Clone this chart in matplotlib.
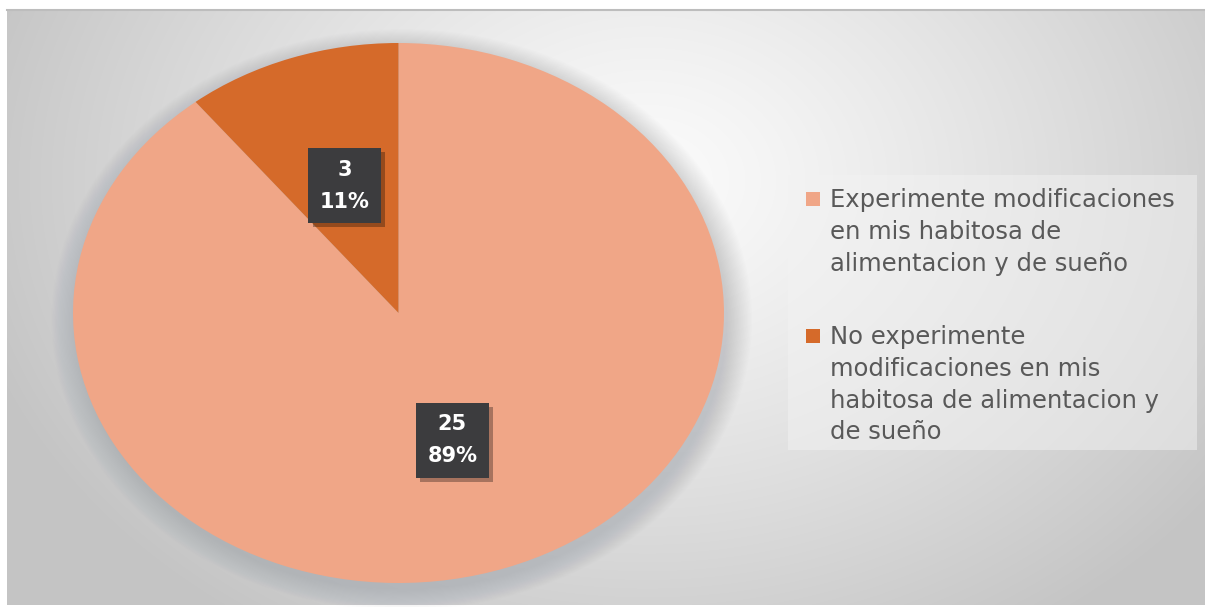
import numpy as np
import matplotlib
matplotlib.use("Agg")
import matplotlib.pyplot as plt
from matplotlib.patches import Ellipse, Rectangle
import matplotlib.patheffects as pe

# -----------------------------------
# Data
# -----------------------------------
categories = [
    "Experimente modificaciones\nen mis habitosa de\nalimentacion y de sueño",
    "No experimente\nmodificaciones en mis\nhabitosa de alimentacion y\nde sueño",
]
counts = [25, 3]
colors = ["#F0A687", "#D56A2A"]
total = sum(counts)

W, H = 1205, 607
fig = plt.figure(figsize=(W / 100, H / 100), dpi=100)
fig.patch.set_facecolor("white")

# -----------------------------------
# Background (radial grey gradient)
# -----------------------------------
ax_bg = fig.add_axes([7 / W, 2 / H, 1198 / W, 595 / H])
ax_bg.set_axis_off()
yy, xx = np.mgrid[0:595, 0:1198]
d = np.sqrt(((xx - 640) / 700.0) ** 2 + ((yy - 170) / 540.0) ** 2)
d = np.clip(d, 0, 1)
light, dark = 0.985, 0.77
img = light - (light - dark) * d ** 1.2
ax_bg.imshow(np.dstack([img, img, img]), aspect="auto", interpolation="bilinear")
# thin top border line
fig.add_artist(plt.Line2D([7 / W, 1], [1 - 10 / H, 1 - 10 / H], color="#bdbdbd", lw=1.5))

# -----------------------------------
# Pie
# -----------------------------------
ax = fig.add_axes([73 / W, 24 / H, 651 / W, 540 / H])
ax.set_axis_off()

# soft shadow around the pie
for k in range(20):
    s = 2 + 0.008 * k
    ax.add_patch(Ellipse((0.01, -0.025), s, s, fc="#80868e", ec="none",
                         alpha=0.017, zorder=0, clip_on=False))

wedges, texts, autotexts = ax.pie(
    counts,
    colors=colors,
    startangle=90,
    counterclock=False,
    pctdistance=0.5,
    autopct=lambda p: f"{round(p * total / 100)}\n{p:.0f}%",
    wedgeprops=dict(linewidth=0),
    textprops=dict(color="white", fontsize=15, fontweight="bold",
                   linespacing=1.75),
)
ax.set_aspect("auto")
ax.set_xlim(-1, 1)
ax.set_ylim(-1, 1)

for t in autotexts:
    t.set_bbox(dict(boxstyle="square,pad=0.55", fc="#3c3c3e", ec="none"))
    t.get_bbox_patch().set_path_effects(
        [pe.SimplePatchShadow(offset=(3, -3), shadow_rgbFace="black", alpha=0.3),
         pe.Normal()]
    )

# -----------------------------------
# Legend (drawn by hand, marker aligned with first line)
# -----------------------------------
def fx(px):
    return px / W


def fy(py):
    return 1 - py / H


fig.add_artist(Rectangle((fx(788), fy(450)), fx(1197) - fx(788), 275 / H,
                         transform=fig.transFigure, fc="#f2f2f2", ec="none",
                         alpha=0.5))

legend_tops = [188, 325]
marker_mid = [199, 336]
for cat, col, top, mid in zip(categories, colors, legend_tops, marker_mid):
    fig.add_artist(Rectangle((fx(806), fy(mid + 7)), 14 / W, 14 / H,
                             transform=fig.transFigure, fc=col, ec="none"))
    fig.text(fx(830), fy(top), cat, ha="left", va="top", fontsize=17.5,
             color="#595959", linespacing=1.41)

fig.savefig("out.png", dpi=100, facecolor=fig.get_facecolor())
